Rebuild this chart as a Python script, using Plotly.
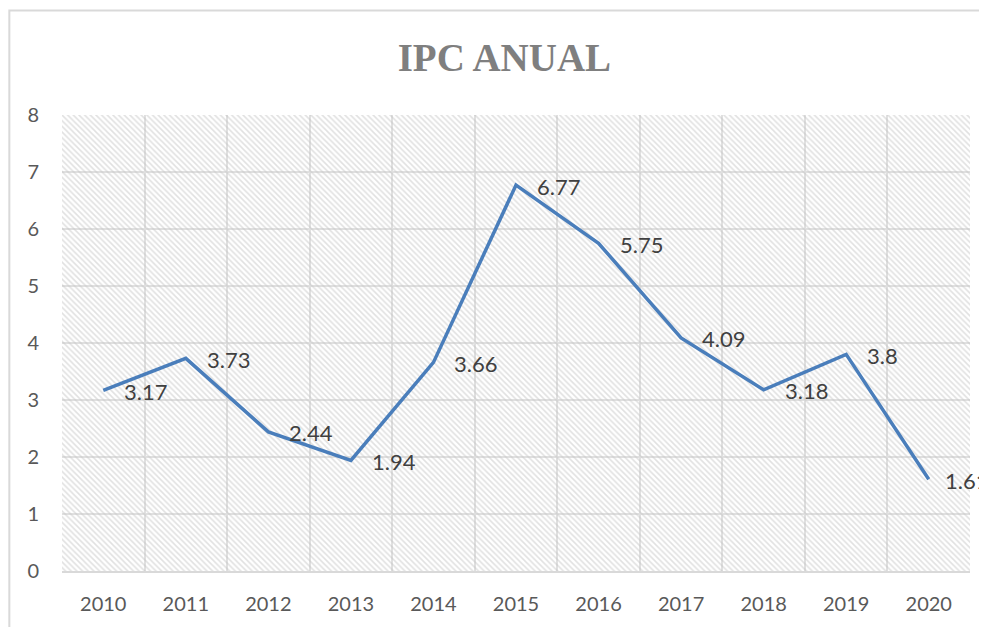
import plotly.graph_objects as go

years = ["2010", "2011", "2012", "2013", "2014", "2015", "2016", "2017", "2018", "2019", "2020"]
ipc = [3.17, 3.73, 2.44, 1.94, 3.66, 6.77, 5.75, 4.09, 3.18, 3.8, 1.61]
labels = ["3.17", "3.73", "2.44", "1.94", "3.66", "6.77", "5.75", "4.09", "3.18", "3.8", "1.61"]
y_max = 8
title_text = "IPC ANUAL"

fig = go.Figure()

# hatched plot-area background
fig.add_trace(go.Bar(
    x=years, y=[y_max] * len(years), width=1,
    marker=dict(color="rgba(0,0,0,0)", line=dict(width=0),
                pattern=dict(shape="\\", fgcolor="#c4c4c4", bgcolor="rgba(0,0,0,0)",
                             size=4, solidity=0.4)),
    hoverinfo="skip", showlegend=False,
))

fig.add_trace(go.Scatter(
    x=years, y=ipc, mode="lines",
    line=dict(color="#4A7EBB", width=3.5),
    hoverinfo="skip", showlegend=False,
))

n = len(labels)
annotations = [
    dict(x=i, y=v, text=lab, xref="x", yref="y", showarrow=False,
         xanchor="left", yanchor="middle", xshift=(14 if i == n - 1 else 19), yshift=-1,
         font=dict(family="Lato, Carlito, sans-serif", size=22, color="#404040"))
    for i, (v, lab) in enumerate(zip(ipc, labels))
]

fig.update_layout(
    width=979, height=619,
    margin=dict(l=54, r=17, t=107, b=54),
    paper_bgcolor="white", plot_bgcolor="white",
    bargap=0,
    title=dict(text="<b>" + title_text + "</b>", x=0.507, xanchor="center", y=0.921, yanchor="middle",
               font=dict(family="Liberation Serif, serif", size=39, color="#7f7f7f")),
    xaxis=dict(type="category", tickson="boundaries", showgrid=True, gridcolor="#e0e0e0", gridwidth=1.5,
               showline=True, linecolor="#d9d9d9", linewidth=2, ticks="",
               tickfont=dict(family="Lato, Carlito, sans-serif", size=20, color="#595959"),
               ticklabelstandoff=14, range=[-0.5, len(years) - 0.5]),
    yaxis=dict(range=[0, y_max], dtick=1, showgrid=True, gridcolor="#e0e0e0", gridwidth=1.5,
               zeroline=False, ticks="",
               tickfont=dict(family="Lato, Carlito, sans-serif", size=20, color="#595959"),
               ticklabelstandoff=22),
    annotations=annotations,
    shapes=[dict(type="rect", xref="paper", yref="paper", x0=-0.058, x1=1.1, y0=-0.3, y1=1.229,
                 line=dict(color="#d9d9d9", width=2), fillcolor="rgba(0,0,0,0)", layer="below")],
)

fig.write_html("out.html")
